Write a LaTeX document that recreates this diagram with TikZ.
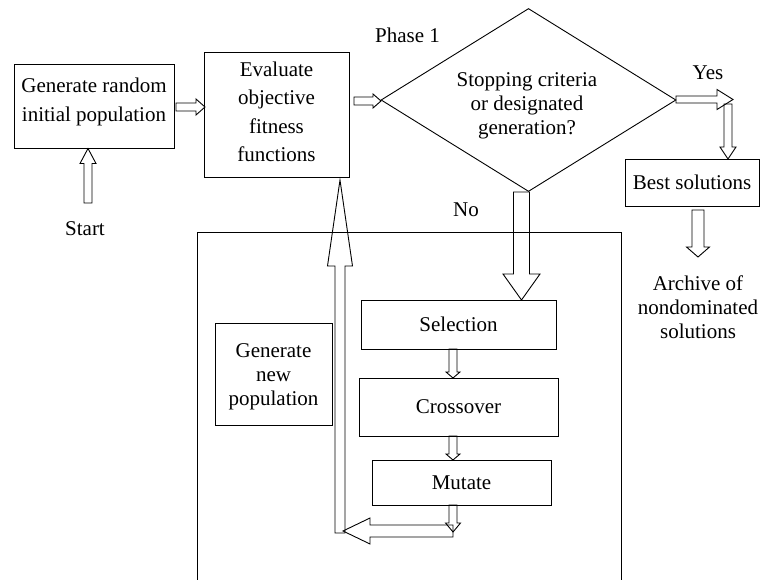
\documentclass[tikz,border=0pt]{standalone}
\usepackage{fontspec}
\setmainfont{Liberation Serif}
\usetikzlibrary{calc,shapes.geometric}
\newcommand\fsz{\fontsize{21}{24}\selectfont}
\newcommand\fszw{\fontsize{21}{28.5}\selectfont}
\newcommand\blockarr[5]{%
  \coordinate (bah) at ($(#2)!#5!(#1)$);
  \draw[blk] ($(#1)!#3!-90:(#2)$) -- ($(bah)!#3!90:(#1)$) -- ($(bah)!#4!90:(#1)$) -- (#2)
    -- ($(bah)!#4!-90:(#1)$) -- ($(bah)!#3!-90:(#1)$) -- ($(#1)!#3!90:(#2)$) -- cycle;
}
\begin{document}
\begin{tikzpicture}[x=1pt,y=-1pt,
  box/.style={draw, line width=0.9pt, inner sep=2pt, align=center, font=\fsz},
  txt/.style={inner sep=0pt, align=center, font=\fsz},
  blk/.style={draw, line width=0.9pt, line join=miter}]
\useasboundingbox (0,0) rectangle (761,580);
% outer frame
\draw[line width=0.9pt] (197,580) -- (197,232) -- (621,232) -- (621,580);
% boxes
\node[box, minimum width=160pt, minimum height=84pt] (gen) at (94,106) {};
\node[txt, font=\fszw] (gentext) at (94,102) {Generate random\\initial population};
\node[box, minimum width=145pt, minimum height=125pt] (eval) at (276.5,114.5) {};
\node[txt, font=\fszw] (evaltext) at (276.5,112) {Evaluate\\objective\\fitness\\functions};
\node[diamond, draw, line width=0.9pt, inner sep=0pt, minimum width=295pt, minimum height=183pt] (dia) at (528.5,100) {};
\node[txt] (diatext) at (527,106) {Stopping criteria\\or designated\\generation?};
\node[box, minimum width=134pt, minimum height=47pt] (best) at (692,182.5) {Best solutions};
\node[box, minimum width=195pt, minimum height=49pt] (sel) at (458.5,324.5) {Selection};
\node[box, minimum width=199pt, minimum height=58pt] (cro) at (458.5,407) {Crossover};
\node[box, minimum width=179pt, minimum height=45pt] (mut) at (461.5,482.5) {Mutate};
\node[box, minimum width=117pt, minimum height=102pt] (newp) at (273.5,374) {};
\node[txt] (newptext) at (273.5,377) {Generate\\new\\population};
% labels
\node[txt, anchor=base] (start) at (85,236) {Start};
\node[txt, anchor=base] (ph) at (407.5,43) {Phase 1};
\node[txt, anchor=base] (yes) at (708,80) {Yes};
\node[txt, anchor=base] (no) at (466,217) {No};
\node[txt] (arch) at (698,307) {Archive of\\nondominated\\solutions};
% arrow end points
\coordinate (a1) at (88,203);   \coordinate (a1t) at (88,148.5);
\coordinate (a2) at (176,107);  \coordinate (a2t) at (205,107);
\coordinate (a3) at (354,101);  \coordinate (a3t) at (381,101);
\coordinate (a4) at (676,99.5); \coordinate (a4t) at (733,99.5);
\coordinate (a5) at (728,104);  \coordinate (a5t) at (728,159);
\coordinate (a6) at (698,210);  \coordinate (a6t) at (698,257);
\coordinate (a7) at (521.5,192);\coordinate (a7t) at (521.5,300);
\coordinate (a8) at (453,349);  \coordinate (a8t) at (453,378);
\coordinate (a9) at (453,436);  \coordinate (a9t) at (453,460);
\coordinate (a10) at (453,505); \coordinate (a10t) at (453,532);
\coordinate (a11) at (453,531); \coordinate (a11t) at (343,531);
\coordinate (a12) at (340,533); \coordinate (a12t) at (340,180);
% block arrows
\blockarr{a1}{a1t}{4pt}{8pt}{15pt}
\blockarr{a2}{a2t}{4pt}{8pt}{9pt}
\blockarr{a3}{a3t}{4pt}{7pt}{8pt}
\blockarr{a4}{a4t}{3.5pt}{10pt}{16pt}
\blockarr{a5}{a5t}{4pt}{8pt}{12pt}
\blockarr{a6}{a6t}{6pt}{11.5pt}{10pt}
\blockarr{a7}{a7t}{8pt}{18.5pt}{26pt}
\blockarr{a8}{a8t}{4pt}{7pt}{6pt}
\blockarr{a9}{a9t}{4pt}{7pt}{6pt}
\blockarr{a10}{a10t}{4pt}{7.5pt}{9pt}
\blockarr{a11}{a11t}{6pt}{13pt}{27pt}
\blockarr{a12}{a12t}{5pt}{12.5pt}{86pt}
\end{tikzpicture}
\end{document}
